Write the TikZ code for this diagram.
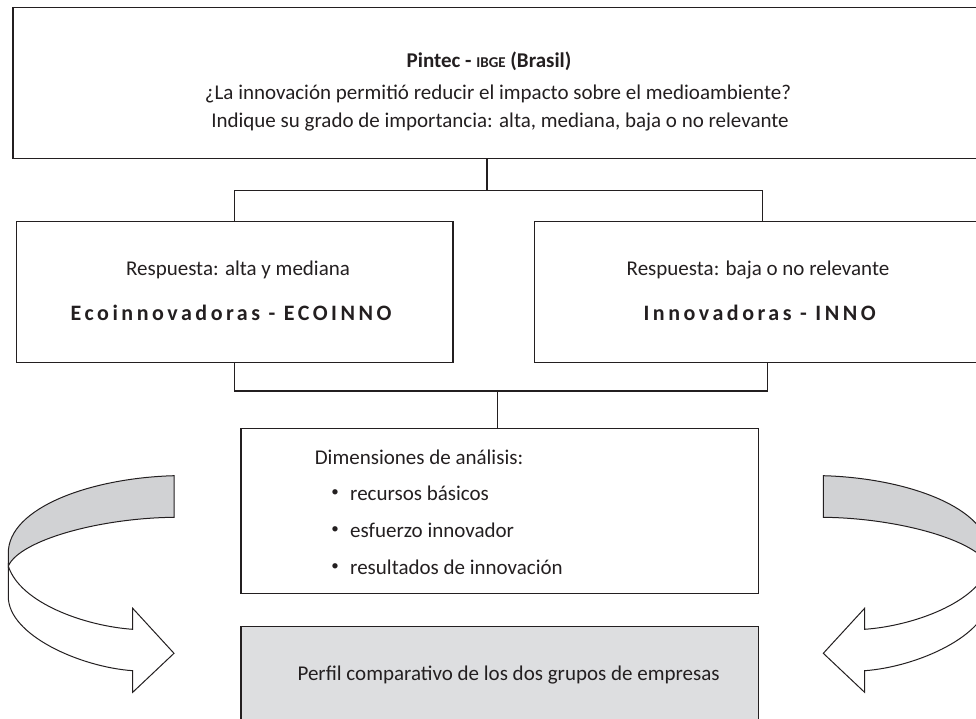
\documentclass[tikz,border=0pt]{standalone}
\usepackage{fontspec}
\setmainfont{Carlito}
\definecolor{band}{RGB}{209,210,212}
\definecolor{boxgray}{RGB}{221,222,224}
\definecolor{ink}{RGB}{35,31,32}
\begin{document}
\begin{tikzpicture}[x=1pt,y=-1pt,
  box/.style={draw=ink, line width=1.2pt, inner sep=0pt, anchor=north west},
  conn/.style={draw=ink, line width=1.2pt},
  txt/.style={inner sep=0pt, text=ink, text height=14pt, text depth=4pt, font=\fontsize{21}{25}\selectfont},
  ttl/.style={txt, font=\fontsize{21}{25}\selectfont\bfseries},
  spaced/.style={txt, font=\fontsize{22}{26}\selectfont\bfseries\addfontfeature{LetterSpace=16}},
  bul/.style={inner sep=0pt, text=ink, font=\fontsize{15}{16}\selectfont},
  ribbon/.style={draw=ink, line width=1pt, line join=miter}]
\useasboundingbox (0,0) rectangle (976,719);
\clip (0,0) rectangle (976,719);

% boxes
\node[box, minimum width=975pt, minimum height=150.4pt] (top) at (12.4,7.3) {};
\node[box, minimum width=436.8pt, minimum height=141pt] (left) at (15.6,220.7) {};
\node[box, minimum width=455.4pt, minimum height=141pt] (right) at (534,220.7) {};
\node[box, minimum width=517.1pt, minimum height=165pt] (mid) at (240.4,427.7) {};
\node[box, fill=boxgray, minimum width=517.1pt, minimum height=120pt] (res) at (240.4,626) {};

% connectors
\coordinate (j1) at (487,190.7);
\coordinate (j2) at (497.8,391);
\draw[conn] (top.south -| j1) -- (j1);
\draw[conn] (left.north) |- (j1) -| (right.north);
\draw[conn] (left.south) |- (j2);
\draw[conn] ([xshift=4.9pt]right.south) |- (j2);
\draw[conn] (j2) -- (mid.north -| j2);

% texts
\node[ttl] (t1) at (489,63) {Pintec - {\fontsize{15}{18}\selectfont IBGE} (Brasil)};
\node[txt] (t2) at (498,95) {¿La innovación permitió reducir el impacto sobre el medioambiente?};
\node[txt] (t3) at (500,123) {Indique su grado de importancia: alta, mediana, baja o no relevante};

\node[txt] (l1) at (238,270) {Respuesta: alta y mediana};
\node[spaced] (l2) at (231,315) {Ecoinnovadoras - ECOINNO};
\node[txt] (r1) at (758,270) {Respuesta: baja o no relevante};
\node[spaced] (r2) at (759.6,315) {Innovadoras - INNO};

\node[txt, anchor=west] (d0) at (314.6,459) {Dimensiones de análisis:};
\node[bul] (b1) at (335,493.5) {•};
\node[txt, anchor=west] (d1) at (350,495) {recursos básicos};
\node[bul] (b2) at (335,530.5) {•};
\node[txt, anchor=west] (d2) at (350,532) {esfuerzo innovador};
\node[bul] (b3) at (335,567.5) {•};
\node[txt, anchor=west] (d3) at (350,569) {resultados de innovación};

\node[txt] (g) at (508.6,675) {Perfil comparativo de los dos grupos de empresas};

% curved arrows
\foreach \sh/\sc in {0/1, 997.3/-1}{
\begin{scope}[xshift=\sh pt, xscale=\sc]
\draw[ribbon, fill=band] (174,475.7) .. controls (90,478) and (8.3,508) .. (8.3,553)
  -- (8.3,566) .. controls (20,540) and (100,518) .. (174,517.3) -- cycle;
\draw[ribbon, fill=white] (8.3,566) .. controls (20,603) and (85,626) .. (132.7,629.3)
  -- (132.7,608.3) -- (174,653.3) -- (132.7,692.3) -- (132.7,670.7)
  .. controls (80,667) and (8.3,635) .. (8.3,596.7) -- cycle;
\end{scope}}
\end{tikzpicture}
\end{document}
